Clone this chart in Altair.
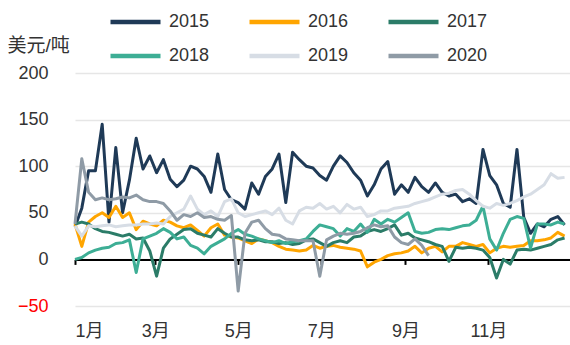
import altair as alt
import pandas as pd

# Daily-spread series sampled every 5 days from 1 Jan (values in USD/ton)
years = ["2015", "2016", "2017", "2018", "2019", "2020"]
colors = ["#1F3A57", "#FFA500", "#2B7C68", "#3DAE95", "#D7DDE5", "#8F9BA6"]
step_days = 5

v2015 = [35, 55, 95, 95, 145, 40, 120, 50, 85, 130, 97, 111, 93, 107,
         86, 78, 85, 100, 97, 89, 72, 113, 75, 64, 61, 54, 82, 70,
         89, 97, 113, 61, 115, 107, 100, 98, 90, 85, 100, 111, 104, 93,
         85, 68, 80, 97, 105, 70, 80, 72, 88, 78, 72, 82, 72, 68,
         70, 62, 65, 60, 118, 90, 80, 60, 56, 118, 45, 28, 38, 35, 43, 46, 37]
v2016 = [38, 14, 40, 46, 50, 45, 57, 45, 50, 32, 41, 38, 36, 42,
         40, 36, 34, 37, 31, 25, 34, 38, 26, 24, 23, 20, 17, 22,
         20, 18, 14, 11, 10, 9, 10, 15, 12, 14, 15, 13, 12, 11,
         9, -8, -3, 0, 4, 6, 7, 9, 14, 7, 12, 14, 8, 14,
         14, 18, 16, 14, 16, 7, 12, 14, 13, 14, 15, 20, 20, 21, 23, 29, 25]
v2017 = [38, 40, 38, 33, 30, 29, 27, 25, 27, 22, 23, 9, -18, 12,
         22, 27, 32, 33, 28, 26, 24, 33, 28, 24, 24, 21, 20, 21,
         19, 19, 17, 18, 16, 17, 21, 22, 18, 14, 18, 20, 18, 24,
         25, 30, 32, 30, 33, 37, 26, 28, 23, 21, 19, 16, 14, -2,
         13, 12, 13, 12, 10, 2, -20, 0, -5, 10, 11, 10, 12, 14, 16, 21, 23]
v2018 = [0, 2, 7, 10, 12, 13, 17, 18, 21, -14, 22, 25, 28, 33,
         29, 22, 24, 15, 12, 6, 14, 18, 22, 28, 32, 27, 25, 22,
         20, 18, 20, 17, 19, 20, 22, 30, 37, 35, 33, 25, 33, 30,
         38, 29, 43, 38, 43, 40, 45, 50, 30, 28, 29, 32, 33, 32,
         34, 36, 37, 42, 57, 22, 10, 28, 43, 46, 44, 12, 38, 38, 37, 40, 38]
v2019 = [36, 25, 36, 35, 36, 37, 35, 36, 37, 37, 38, 38, 39, 38,
         46, 50, 54, 68, 54, 48, 52, 46, 62, 65, 50, 46, 48, 50,
         52, 48, 55, 42, 38, 52, 56, 55, 60, 54, 57, 50, 59, 54, 56,
         46, 48, 52, 52, 55, 56, 57, 60, 62, 64, 67, 70, 71, 74, 75,
         70, 63, 57, 55, 60, 58, 60, 63, 67, 70, 75, 80, 92, 87, 88]
v2020 = [38, 108, 72, 64, 66, 64, 65, 67, 66, 69, 64, 62, 62, 60,
         52, 42, 48, 46, 50, 45, 46, 43, 42, 47, -34, 28, 40, 42,
         33, 27, 26, 22, 21, 20, 20, 20, -18, 21, 25, 28, 27, 28, 30,
         34, 37, 35, 36, 24, 18, 16, 22, 15, 4]

series = dict(zip(years, [v2015, v2016, v2017, v2018, v2019, v2020]))

start = pd.Timestamp("2021-01-01")
rows = []
for name, vals in series.items():
    for i, v in enumerate(vals):
        day = start + pd.Timedelta(days=step_days * i)
        rows.append({"date": day.strftime("%Y-%m-%d"), "year": name, "value": v})
df = pd.DataFrame(rows)

font = "Liberation Sans, Noto Sans CJK SC, sans-serif"
text_color = "#333333"
plot_w, plot_h = 495, 233

month_ticks = [alt.DateTime(year=2021, month=m, date=1, utc=True) for m in [1, 3, 5, 7, 9, 11]]
x_domain = [alt.DateTime(year=2021, month=1, date=1, utc=True),
            alt.DateTime(year=2021, month=12, date=31, utc=True)]

chart = alt.Chart(df).mark_line(strokeWidth=3, strokeJoin="round").encode(
    x=alt.X(
        "date:T",
        scale=alt.Scale(type="utc", domain=x_domain, nice=False),
        axis=alt.Axis(
            values=month_ticks,
            labelExpr="utcFormat(datum.value, '%-m') + '月'",
            offset=-plot_h / 5,
            domain=True, domainColor="black", domainWidth=2,
            ticks=True, tickColor="black", tickWidth=2, tickSize=5,
            labelPadding=58, labelFontSize=18, labelFont=font, labelColor=text_color,
            grid=False, title=None,
        ),
    ),
    y=alt.Y(
        "value:Q",
        scale=alt.Scale(domain=[-50, 200], nice=False),
        axis=alt.Axis(
            values=[-50, 0, 50, 100, 150, 200],
            domain=False, ticks=False,
            grid=True, gridColor="#E6E6E6", gridWidth=1.5,
            labelPadding=27, labelFontSize=18, labelFont=font,
            labelColor={"condition": {"test": "datum.value < 0", "value": "#FF0000"},
                        "value": text_color},
            title="美元/吨", titleAngle=0, titleAlign="left", titleBaseline="middle",
            titleX=-68, titleY=-28, titleFontSize=19, titleFontWeight="normal",
            titleFont=font, titleColor=text_color,
        ),
    ),
    color=alt.Color(
        "year:N",
        scale=alt.Scale(domain=years, range=colors),
        legend=alt.Legend(
            title=None, orient="none", legendX=33, legendY=-60,
            direction="horizontal", columns=3,
            symbolType="stroke", symbolSize=2500, symbolStrokeWidth=4.5,
            clipHeight=18, rowPadding=16, columnPadding=37,
            labelFontSize=18, labelFont=font, labelColor=text_color,
            labelOffset=6, padding=0,
        ),
    ),
).properties(
    width=plot_w,
    height=plot_h,
    autosize=alt.AutoSizeParams(type="none"),
    padding={"left": 75, "top": 73, "right": 0, "bottom": 39},
    background="white",
).configure_view(stroke=None)

chart.save("out.html", embed_options={"renderer": "svg", "actions": False})
